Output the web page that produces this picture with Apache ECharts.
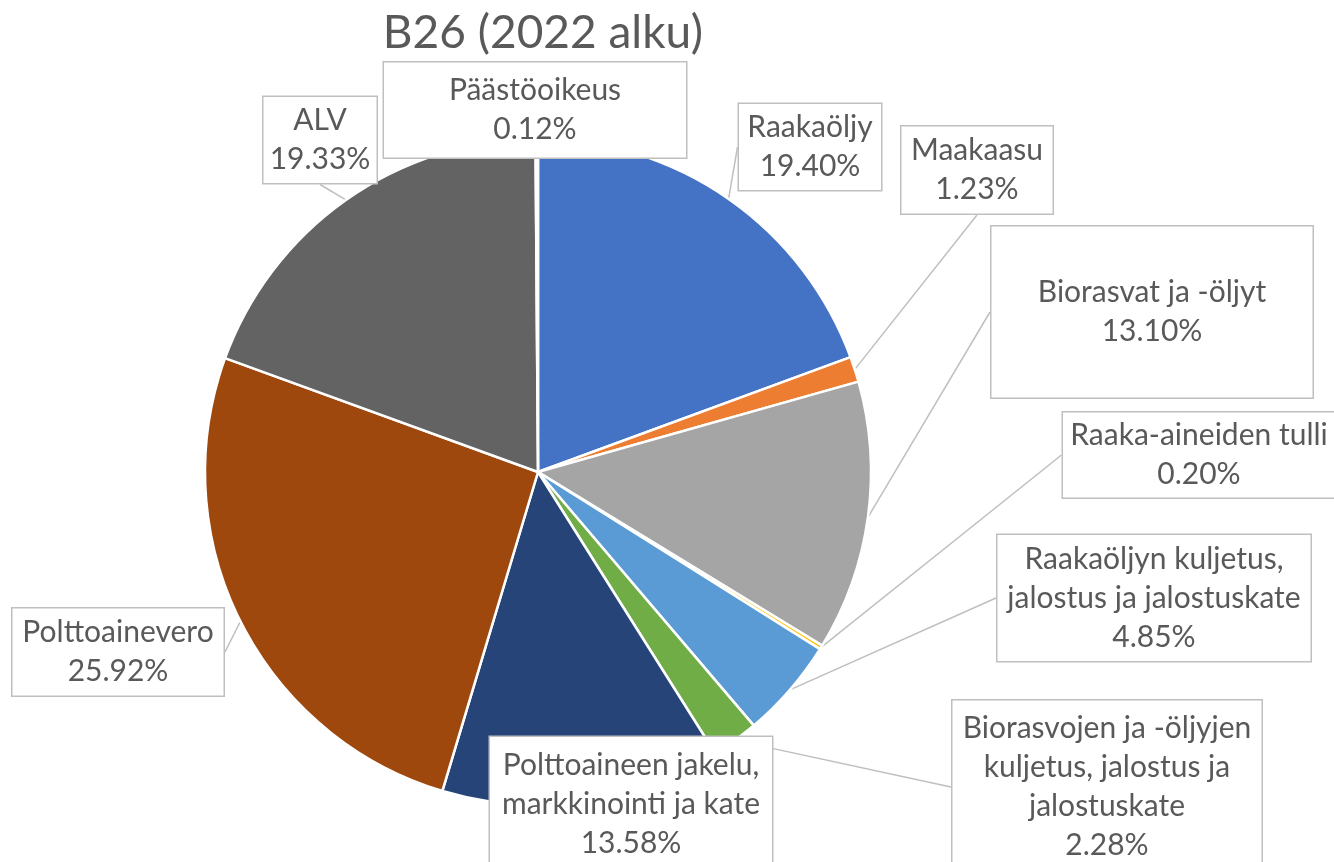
<!DOCTYPE html>
<html>
<head>
<meta charset="utf-8">
<title>B26 (2022 alku)</title>
<script src="https://cdn.jsdelivr.net/npm/echarts@6/dist/echarts.min.js"></script>
<style>
  html, body { margin: 0; padding: 0; background: #fff; }
  #chart { width: 1334px; height: 862px; }
</style>
</head>
<body>
<div id="chart"></div>
<script>
// data
let categories = [
  'Raakaöljy',
  'Maakaasu',
  'Biorasvat ja -öljyt',
  'Raaka-aineiden tulli',
  'Raakaöljyn kuljetus,\njalostus ja jalostuskate',
  'Biorasvojen ja -öljyjen\nkuljetus, jalostus ja\njalostuskate',
  'Polttoaineen jakelu,\nmarkkinointi ja kate',
  'Polttoainevero',
  'ALV',
  'Päästöoikeus'
];
let shares = [19.40, 1.23, 13.10, 0.20, 4.85, 2.28, 13.58, 25.92, 19.33, 0.12];
let colors = ['#4472C4', '#ED7D31', '#A5A5A5', '#FFC000', '#5B9BD5',
  '#70AD47', '#264478', '#9E480E', '#636363', '#997300'];

// label box layout: centre x, centre y, width, height
let labelBoxes = [
  [810, 147, 142, 86],
  [977, 170, 151, 87],
  [1152, 312, 321, 171],
  [1199, 455, 272, 85],
  [1154, 598, 313, 126],
  [1107, 787, 309, 173],
  [631, 804, 282, 134],
  [118, 652, 211, 87],
  [320, 140, 113, 86],
  [535, 110, 302, 95]
];

let lineH = 39;
let chartDom = document.getElementById('chart');
let myChart = echarts.init(chartDom);

let seriesData = categories.map(function (name, i) {
  let box = labelBoxes[i];
  let lines = name.split('\n').length + 1;
  let padV = Math.max(0, (box[3] - lines * lineH) / 2);
  return {
    name: name,
    value: shares[i],
    itemStyle: { color: colors[i] },
    label: {
      width: box[2] - 2,
      padding: [padV + 2, 1, padV - 2, 1]
    }
  };
});

let option = {
  animation: false,
  title: {
    text: 'B26 (2022 alku)',
    left: 538,
    top: 5,
    textAlign: 'center',
    textStyle: {
      fontFamily: 'Lato',
      fontSize: 46,
      fontWeight: 'normal',
      color: '#595959'
    }
  },
  series: [
    {
      type: 'pie',
      center: [538, 472],
      radius: 333,
      startAngle: 90,
      clockwise: true,
      data: seriesData,
      itemStyle: {
        borderColor: '#fff',
        borderWidth: 2.5
      },
      emphasis: { disabled: true },
      label: {
        show: true,
        position: 'outside',
        formatter: function (p) {
          return p.name + '\n' + p.value.toFixed(2) + '%';
        },
        fontFamily: 'Lato',
        fontSize: 30,
        lineHeight: lineH,
        color: '#595959',
        align: 'center',
        overflow: 'none',
        backgroundColor: '#fff',
        borderColor: '#BFBFBF',
        borderWidth: 1.5
      },
      labelLine: {
        show: true,
        length: 10,
        length2: 0,
        smooth: false,
        lineStyle: { color: '#BFBFBF', width: 1.5 }
      },
      labelLayout: function (params) {
        let box = labelBoxes[params.dataIndex];
        return {
          x: box[0],
          y: box[1],
          align: 'center',
          verticalAlign: 'middle'
        };
      }
    }
  ]
};

myChart.setOption(option);
window.addEventListener('resize', function () {
  myChart.resize();
});
</script>
</body>
</html>
